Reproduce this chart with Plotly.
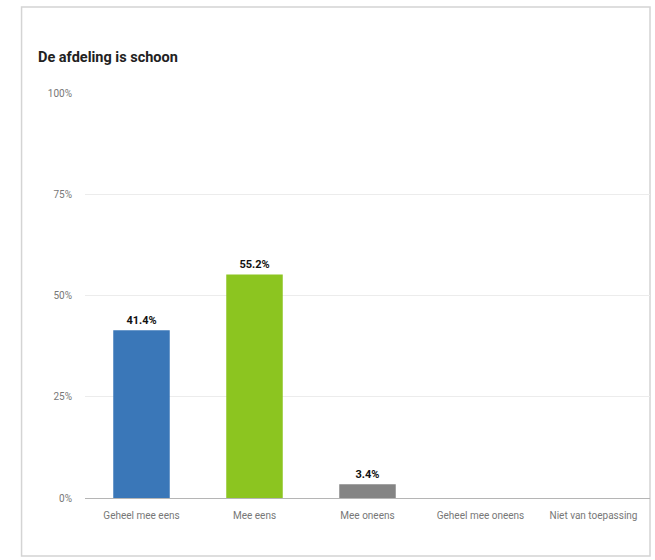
import plotly.graph_objects as go

# Survey results: "De afdeling is schoon"
categories = ["Geheel mee eens", "Mee eens", "Mee oneens", "Geheel mee oneens", "Niet van toepassing"]
percentages = [41.4, 55.2, 3.4, 0.0, 0.0]
bar_colors = ["#3a77b8", "#8cc520", "#848484", "#848484", "#848484"]
tick_values = [0, 25, 50, 75, 100]
tick_labels = ["0%", "25%", "50%", "75%", "100%"]

value_text = [f"{v:.1f}%" if v > 0 else "" for v in percentages]

fig = go.Figure(
    go.Bar(
        x=categories,
        y=percentages,
        marker=dict(color=bar_colors, line=dict(width=0)),
        width=0.5,
        text=value_text,
        textposition="outside",
        cliponaxis=False,
        textfont=dict(family="Roboto, Arial, sans-serif", size=11, color="#111111", weight="bold"),
    )
)

fig.update_layout(
    width=655,
    height=560,
    margin=dict(l=85, r=5, t=93, b=62),
    paper_bgcolor="white",
    plot_bgcolor="white",
    showlegend=False,
    font=dict(family="Roboto, Arial, sans-serif", color="#666666"),
    title=dict(
        text="<b>De afdeling is schoon</b>",
        x=38 / 655,
        xanchor="left",
        y=1 - 57 / 560,
        yanchor="middle",
        font=dict(size=14.5, color="#222222"),
    ),
    bargap=0.5,
    shapes=[
        # card frame
        dict(type="rect", xref="paper", yref="paper",
             x0=-64 / 570, x1=1.0, y0=-58 / 405, y1=1 + 86 / 405,
             line=dict(color="#d4d4d4", width=1.5), layer="below"),
    ],
)

fig.update_xaxes(
    showgrid=False,
    showline=True,
    linecolor="#b5b5b5",
    linewidth=1,
    ticks="",
    ticklabelstandoff=8,
    tickfont=dict(size=10, color="#777777"),
)

fig.update_yaxes(
    range=[0, 100],
    tickvals=tick_values,
    ticktext=tick_labels,
    showgrid=True,
    gridcolor="#ececec",
    gridwidth=1,
    zeroline=False,
    showline=False,
    ticks="",
    ticklabelstandoff=12,
    tickfont=dict(size=10, color="#777777"),
)

fig.write_html("out.html")
